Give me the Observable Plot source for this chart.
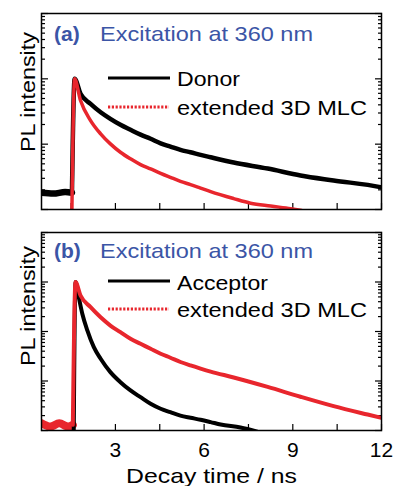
<!DOCTYPE html>
<html><head><meta charset="utf-8">
<script src="https://cdn.jsdelivr.net/npm/d3@7"></script>
<script src="https://cdn.jsdelivr.net/npm/@observablehq/plot@0.6"></script>
<style>body{margin:0;background:#fff} svg{display:block}</style>
</head><body><div id="chart"></div>
<script>
// ---- data ----
const xTicks = [1.5, 3, 4.5, 6, 7.5, 9, 10.5, 12];
const xLabels = [3, 6, 9, 12];
const yMajorA = [0.01, 0.1, 1, 10];
const yMinorA = [0.02,0.03,0.04,0.05,0.06,0.07,0.08,0.09,0.2,0.3,0.4,0.5,0.6,0.7,0.8,0.9,2,3,4,5,6,7,8,9];
const yMajorB = [0.001, 0.01, 0.1, 1, 10];
const yMinorB = [0.002,0.003,0.004,0.005,0.006,0.007,0.008,0.009,0.02,0.03,0.04,0.05,0.06,0.07,0.08,0.09,0.2,0.3,0.4,0.5,0.6,0.7,0.8,0.9,2,3,4,5,6,7,8,9];

// Panel (a): Donor (pre-excitation background, then decay)
const donorBaseT = [0.5, 0.9, 1.3, 1.53];
const donorBaseI = [0.018, 0.0175, 0.0185, 0.018];
const donorT = [1.53, 1.62, 1.82, 2.16, 2.5, 2.83, 3.17, 3.51, 3.85, 4.19, 4.53, 4.86, 5.2, 5.54, 5.88, 6.22, 7.0, 8.15, 9.26, 10.38, 11.96, 12];
const donorI = [0.018, 1, 0.589, 0.414, 0.308, 0.244, 0.198, 0.166, 0.140, 0.121, 0.103, 0.0919, 0.0818, 0.0752, 0.0686, 0.0630, 0.0523, 0.0423, 0.0332, 0.0278, 0.0220, 0.0218];
// Panel (a): extended 3D MLC
const mlcAT = [1.52, 1.62, 1.82, 2.16, 2.5, 2.83, 3.17, 3.51, 3.85, 4.19, 4.53, 4.86, 5.2, 5.54, 5.88, 6.22, 7.0, 7.57, 8.25, 8.93, 9.3];
const mlcAI = [0.005, 1, 0.465, 0.230, 0.144, 0.101, 0.0752, 0.0596, 0.0487, 0.0419, 0.0358, 0.0311, 0.0270, 0.0241, 0.0213, 0.0188, 0.0147, 0.0125, 0.0113, 0.0103, 0.0097];

// Panel (b): Acceptor
const accT = [1.59, 1.65, 1.76, 1.88, 2.05, 2.27, 2.5, 2.83, 3.17, 3.51, 3.85, 4.19, 4.53, 4.86, 5.2, 5.54, 5.88, 6.22, 6.56, 7.23, 7.8];
const accI = [0.0008, 1, 0.493, 0.228, 0.105, 0.0482, 0.0281, 0.0151, 0.00946, 0.00645, 0.00471, 0.00347, 0.00275, 0.00234, 0.0020, 0.00181, 0.00165, 0.00148, 0.00132, 0.00115, 0.00095];
// Panel (b): extended 3D MLC (pre-excitation background, then decay)
const mlcBBaseT = [0.5, 0.8, 1.1, 1.4, 1.56];
const mlcBBaseI = [0.0014, 0.0012, 0.0014, 0.0012, 0.0013];
const mlcBT = [1.56, 1.65, 1.82, 2.16, 2.5, 2.83, 3.17, 3.51, 3.85, 4.19, 4.53, 4.86, 5.2, 5.54, 5.88, 6.22, 7.0, 8.15, 9.26, 10.38, 11.53, 12];
const mlcBI = [0.0013, 1, 0.533, 0.31, 0.194, 0.132, 0.0968, 0.0711, 0.0565, 0.0447, 0.0355, 0.0295, 0.0242, 0.0206, 0.0178, 0.0155, 0.0118, 0.0076, 0.0048, 0.0031, 0.0021, 0.0018];

const RED = "#e8262d", BLUE = "#3b55a6";
const FONT = "'Liberation Sans', Arial, sans-serif";

const toRows = (T, I) => T.map((t, i) => ({t, v: I[i]}));

function panel({height, marginTop, marginBottom, yDomain, yMajor, yMinor, series, labels}) {
  const tickOpts = (size) => ({tickSize: size, tickFormat: () => "", label: null, strokeWidth: 1.2});
  const marks = [
    Plot.axisY(yMajor, {anchor: "left", ...tickOpts(7), dx: 7}),
    Plot.axisY(yMinor, {anchor: "left", ...tickOpts(4), dx: 4}),
    Plot.axisY(yMajor, {anchor: "right", ...tickOpts(7), dx: -7}),
    Plot.axisY(yMinor, {anchor: "right", ...tickOpts(4), dx: -4}),
    Plot.axisX(xTicks, {anchor: "bottom", ...tickOpts(6), dy: -6}),
  ];
  if (labels) marks.push(Plot.axisX(xLabels, {anchor: "bottom", tickSize: 0, tickPadding: 12, label: null, fontSize: 21}));
  for (const s of series) {
    marks.push(Plot.line(s.rows, {x: "t", y: "v", stroke: s.color, strokeWidth: s.w, curve: "monotone-x", clip: true}));
  }
  marks.push(Plot.frame({stroke: "black", strokeWidth: 1.5}));
  return Plot.plot({
    width: 395, height, marginLeft: 41, marginRight: 14, marginTop, marginBottom,
    x: {type: "linear", domain: [0.5, 12]},
    y: {type: "log", domain: yDomain},
    style: {fontFamily: FONT, fontSize: "21px", color: "black", background: "white"},
    marks
  });
}

function decorate(svg, o) {
  const s = d3.select(svg);
  const g = s.append("g").attr("font-family", FONT).attr("font-size", 21).attr("text-anchor", "start");
  g.append("text").attr("x", 54).attr("y", o.titleY).attr("fill", BLUE).attr("font-weight", "bold").text(o.tag);
  g.append("text").attr("x", 100).attr("y", o.titleY).attr("fill", BLUE)
    .attr("textLength", 213).attr("lengthAdjust", "spacingAndGlyphs").text("Excitation at 360 nm");
  g.append("line").attr("x1", 108).attr("x2", 170).attr("y1", o.l1).attr("y2", o.l1)
    .attr("stroke", "black").attr("stroke-width", 3);
  g.append("text").attr("x", 177).attr("y", o.t1).attr("fill", "black")
    .attr("textLength", o.name1Len).attr("lengthAdjust", "spacingAndGlyphs").text(o.name1);
  g.append("line").attr("x1", 108).attr("x2", 169).attr("y1", o.l2).attr("y2", o.l2)
    .attr("stroke", RED).attr("stroke-width", 3).attr("stroke-dasharray", "2.2,1.6");
  g.append("text").attr("x", 177).attr("y", o.t2).attr("fill", "black")
    .attr("textLength", 190).attr("lengthAdjust", "spacingAndGlyphs").text("extended 3D MLC");
  g.append("text").attr("transform", `translate(35,${o.ylabY}) rotate(-90)`).attr("text-anchor", "middle")
    .attr("fill", "black").attr("textLength", 120).attr("lengthAdjust", "spacingAndGlyphs").text("PL intensity");
  if (o.xlab) {
    g.append("text").attr("x", 126).attr("y", o.xlabY).attr("fill", "black")
      .attr("textLength", 171).attr("lengthAdjust", "spacingAndGlyphs").text("Decay time / ns");
  }
}

const a = panel({height: 222, marginTop: 13, marginBottom: 13, yDomain: [0.01, 10], yMajor: yMajorA, yMinor: yMinorA,
  series: [
    {rows: toRows(donorBaseT, donorBaseI), color: "black", w: 6.5},
    {rows: toRows(donorT, donorI), color: "black", w: 4.5},
    {rows: toRows(mlcAT, mlcAI), color: RED, w: 3.5}
  ], labels: false});
decorate(a, {tag: "(a)", titleY: 41, l1: 78, t1: 86, name1: "Donor", name1Len: 63, l2: 107, t2: 115, ylabY: 92});

const b = panel({height: 264, marginTop: 10, marginBottom: 56, yDomain: [0.001, 10], yMajor: yMajorB, yMinor: yMinorB,
  series: [
    {rows: toRows(mlcBBaseT, mlcBBaseI), color: RED, w: 8},
    {rows: toRows(accT, accI), color: "black", w: 4},
    {rows: toRows(mlcBT, mlcBI), color: RED, w: 4}
  ], labels: true});
decorate(b, {tag: "(b)", titleY: 36, l1: 59, t1: 67.5, name1: "Acceptor", name1Len: 91, l2: 87, t2: 94.7, ylabY: 84, xlab: true, xlabY: 261});

document.getElementById("chart").append(a, b);
</script>
</body></html>
